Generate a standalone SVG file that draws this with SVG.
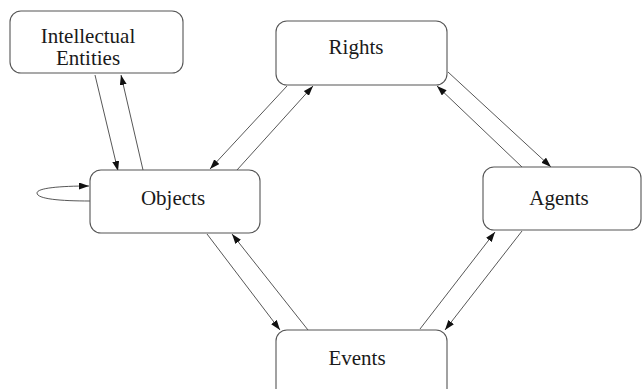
<svg xmlns="http://www.w3.org/2000/svg" width="642" height="389" viewBox="0 0 642 389">
<style>
.box{fill:#fff;stroke:#555;stroke-width:1.1}
.lbl{font-family:"Liberation Serif","Times New Roman",serif;font-size:21px;fill:#1a1a1a;text-anchor:middle}
.edge{fill:none;stroke:#444;stroke-width:0.9;marker-end:url(#ah)}
</style>
<defs>
<marker id="ah" markerUnits="userSpaceOnUse" markerWidth="10" markerHeight="7" refX="10" refY="3.5" orient="auto">
<path d="M0,0 L10,3.5 L0,7 z" fill="#111"/>
</marker>
</defs>
<rect width="642" height="389" fill="#fff"/>
<g id="connectors">
<line class="edge" x1="95" y1="75" x2="118" y2="171"/>
<line class="edge" x1="143" y1="170" x2="121" y2="75"/>
<line class="edge" x1="287" y1="86" x2="210" y2="169"/>
<line class="edge" x1="237" y1="170" x2="313" y2="86"/>
<line class="edge" x1="448" y1="72" x2="551" y2="167"/>
<line class="edge" x1="522" y1="167" x2="437" y2="86"/>
<line class="edge" x1="420" y1="329" x2="495" y2="232"/>
<line class="edge" x1="522" y1="231" x2="445" y2="330"/>
<line class="edge" x1="207" y1="234" x2="280" y2="330"/>
<line class="edge" x1="308" y1="330" x2="232" y2="234"/>
<path class="edge" d="M90,201 C60,201 37,199 37,193 C37,188 60,186 89,186"/>
</g>
<g id="intellectual-entities">
<rect class="box" x="10" y="11" width="173" height="62" rx="11"/>
<text class="lbl" x="88" y="43">Intellectual</text>
<text class="lbl" x="88" y="65">Entities</text>
</g>
<g id="objects">
<rect class="box" x="90" y="170" width="170" height="63" rx="11"/>
<text class="lbl" x="173" y="205">Objects</text>
</g>
<g id="rights">
<rect class="box" x="276" y="21" width="171" height="64" rx="11"/>
<text class="lbl" x="356" y="54">Rights</text>
</g>
<g id="agents">
<rect class="box" x="483" y="167" width="158" height="63" rx="11"/>
<text class="lbl" x="559" y="205">Agents</text>
</g>
<g id="events">
<rect class="box" x="276" y="330" width="171" height="70" rx="11"/>
<text class="lbl" x="357" y="365">Events</text>
</g>
</svg>
